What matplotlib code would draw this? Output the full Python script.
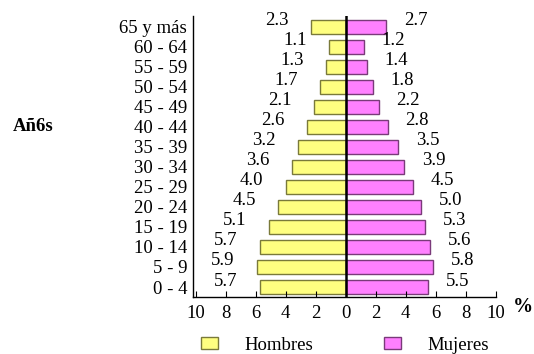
import matplotlib
matplotlib.use("Agg")
import matplotlib.pyplot as plt
import numpy as np

plt.rcParams['font.family'] = ['Liberation Serif', 'DejaVu Serif']

grupos = ['0 - 4', '5 - 9', '10 - 14', '15 - 19', '20 - 24', '25 - 29', '30 - 34',
          '35 - 39', '40 - 44', '45 - 49', '50 - 54', '55 - 59', '60 - 64', '65 y más']
hombres = [5.7, 5.9, 5.7, 5.1, 4.5, 4.0, 3.6, 3.2, 2.6, 2.1, 1.7, 1.3, 1.1, 2.3]
mujeres = [5.5, 5.8, 5.6, 5.3, 5.0, 4.5, 3.9, 3.5, 2.8, 2.2, 1.8, 1.4, 1.2, 2.7]
xticks = [-10, -8, -6, -4, -2, 0, 2, 4, 6, 8, 10]

fs = 13.5
fig = plt.figure(figsize=(5.34, 3.54), dpi=100)
ax = fig.add_axes([0.361, 0.161, 0.567, 0.794])

y = np.arange(len(grupos))
h = np.array(hombres)
m = np.array(mujeres)
bh = ax.barh(y, -h, height=0.7, color='#FFFF80', edgecolor='#7a7a3a', linewidth=1, label='Hombres')
bm = ax.barh(y, m, height=0.7, color='#FF80FF', edgecolor='#7a3a7a', linewidth=1, label='Mujeres')
ax.axvline(0, color='black', linewidth=1.8)

# etiquetas de valor a cada lado de la pirámide
for yi, v in zip(y, hombres):
    ax.text(-v - 1.5, yi + 0.3, f'{v:.1f}', ha='right', va='center', fontsize=fs)
for yi, v in zip(y, mujeres):
    ax.text(v + 1.2, yi + 0.3, f'{v:.1f}', ha='left', va='center', fontsize=fs)

ax.set_xlim(-10.2, 10)
ax.set_ylim(-0.5, 13.55)
ax.set_xticks(xticks)
ax.set_xticklabels([str(abs(t)) for t in xticks], fontsize=fs)
ax.set_yticks(y)
ax.set_yticklabels(grupos, fontsize=fs)
ax.tick_params(axis='x', direction='in', length=4, pad=6)
ax.tick_params(axis='y', length=0, pad=4)
for s in ['top', 'right']:
    ax.spines[s].set_visible(False)
ax.spines['left'].set_linewidth(1)
ax.spines['bottom'].set_linewidth(1)

ax.set_ylabel('Añ6s', rotation=0, fontsize=fs, fontweight='bold', ha='center', va='center')
ax.yaxis.set_label_coords(-0.528, 0.605)
ax.text(1.092, -0.036, '%', transform=ax.transAxes, fontsize=fs + 1, fontweight='bold',
        ha='center', va='center')

fig.legend(handles=[bh, bm], loc='center', bbox_to_anchor=(0.646, 0.025), ncol=2,
           frameon=False, fontsize=fs, handlelength=0.9, handleheight=0.65,
           handletextpad=1.4, columnspacing=3.8)

plt.savefig('out.png', dpi=100)
